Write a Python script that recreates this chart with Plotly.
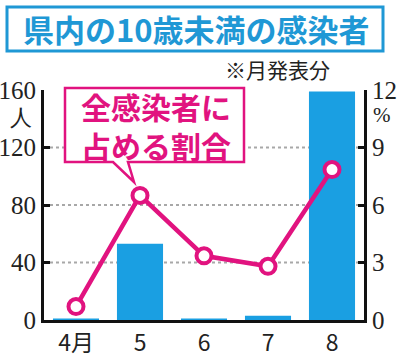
import plotly.graph_objects as go

months = ["4月", "5", "6", "7", "8"]
cases = [1, 53, 1, 3, 159]            # 人 (left axis)
share = [0.7, 6.5, 3.35, 2.8, 7.85]   # % (right axis)
left_ticks = [0, 40, 80, 120, 160]
right_ticks = [0, 3, 6, 9, 12]

W, H = 400, 360
L, R, T, B = 44, 36, 90, 40
PW, PH = W - L - R, H - T - B

def px(x):
    return (x - L) / PW

def py(y):
    return (H - B - y) / PH

BLUE = "#1a9fe2"
PINK = "#e1137f"
TBLUE = "#1f98d5"
SERIF = "Liberation Serif"
SANS = "Noto Sans CJK JP"

fig = go.Figure()
fig.add_trace(go.Bar(x=months, y=cases, marker=dict(color=BLUE, line=dict(width=0)),
                     yaxis="y", hoverinfo="skip"))
fig.add_trace(go.Scatter(x=months, y=share, yaxis="y2", mode="lines+markers",
                         line=dict(color=PINK, width=4.5),
                         marker=dict(size=15, color="white", line=dict(color=PINK, width=4)),
                         hoverinfo="skip"))

shapes = []
for v in left_ticks[1:-1]:
    shapes.append(dict(type="line", xref="paper", yref="y", x0=0, x1=1, y0=v, y1=v,
                       line=dict(color="#a8a8a8", width=2, dash="dot"), layer="below"))
shapes.append(dict(type="rect", xref="paper", yref="paper",
                   x0=px(7), x1=px(383), y0=py(7), y1=py(51),
                   line=dict(color=TBLUE, width=3), fillcolor="white"))
path = "M {a},{b} L {c},{b} L {c},{d} L {e},{d} L {f},{g} L {h},{d} L {a},{d} Z".format(
    a=px(65), b=py(88), c=px(244), d=py(162), e=px(128), f=px(134), g=py(182), h=px(113))
shapes.append(dict(type="path", xref="paper", yref="paper", path=path,
                   line=dict(color=PINK, width=2.5), fillcolor="white"))

annotations = [
    dict(text="<b>県内の10歳未満の感染者</b>", xref="paper", yref="paper", x=px(196), y=py(29),
         showarrow=False, font=dict(family=SANS, size=31, color=TBLUE), xanchor="center", yanchor="middle"),
    dict(text="※月発表分", xref="paper", yref="paper", x=px(277), y=py(69),
         showarrow=False, font=dict(family=SANS, size=21, color="#222"), xanchor="center", yanchor="middle"),
    dict(text="<b>全感染者に<br>占める割合</b>", xref="paper", yref="paper", x=px(156), y=py(125),
         showarrow=False, font=dict(family=SANS, size=30, color=PINK), xanchor="center", yanchor="middle"),
    dict(text="人", xref="paper", yref="paper", x=px(21), y=py(117),
         showarrow=False, font=dict(family=SERIF, size=22, color="#222"), xanchor="center", yanchor="middle"),
    dict(text="%", xref="paper", yref="paper", x=px(382), y=py(115),
         showarrow=False, font=dict(family=SERIF, size=21, color="#222"), xanchor="center", yanchor="middle"),
]

fig.update_layout(
    width=W, height=H, margin=dict(l=L, r=R, t=T, b=B, autoexpand=False),
    paper_bgcolor="white", plot_bgcolor="white", showlegend=False, bargap=0.28,
    shapes=shapes, annotations=annotations,
    xaxis=dict(type="category", range=[-0.5, 4.5], showline=True, linecolor="#111", linewidth=3,
               ticks="", showgrid=False, automargin=False,
               tickfont=dict(family=SANS, size=23, color="#222")),
    yaxis=dict(range=[0, 160], tickvals=left_ticks, showgrid=False, zeroline=False, automargin=False,
               showline=True, linecolor="#111", linewidth=3, ticks="inside", ticklen=6,
               tickwidth=3, tickcolor="#111", tickfont=dict(family=SERIF, size=25, color="#222")),
    yaxis2=dict(range=[0, 12], tickvals=right_ticks, overlaying="y", side="right", showgrid=False,
                zeroline=False, showline=True, linecolor="#111", linewidth=3, ticks="inside",
                ticklen=6, tickwidth=3, tickcolor="#111", automargin=False,
                tickfont=dict(family=SERIF, size=25, color="#222")),
)

fig.write_html("out.html", config={"displayModeBar": False, "staticPlot": True},
               post_script="document.body.style.margin='0';document.body.style.overflow='hidden';")
